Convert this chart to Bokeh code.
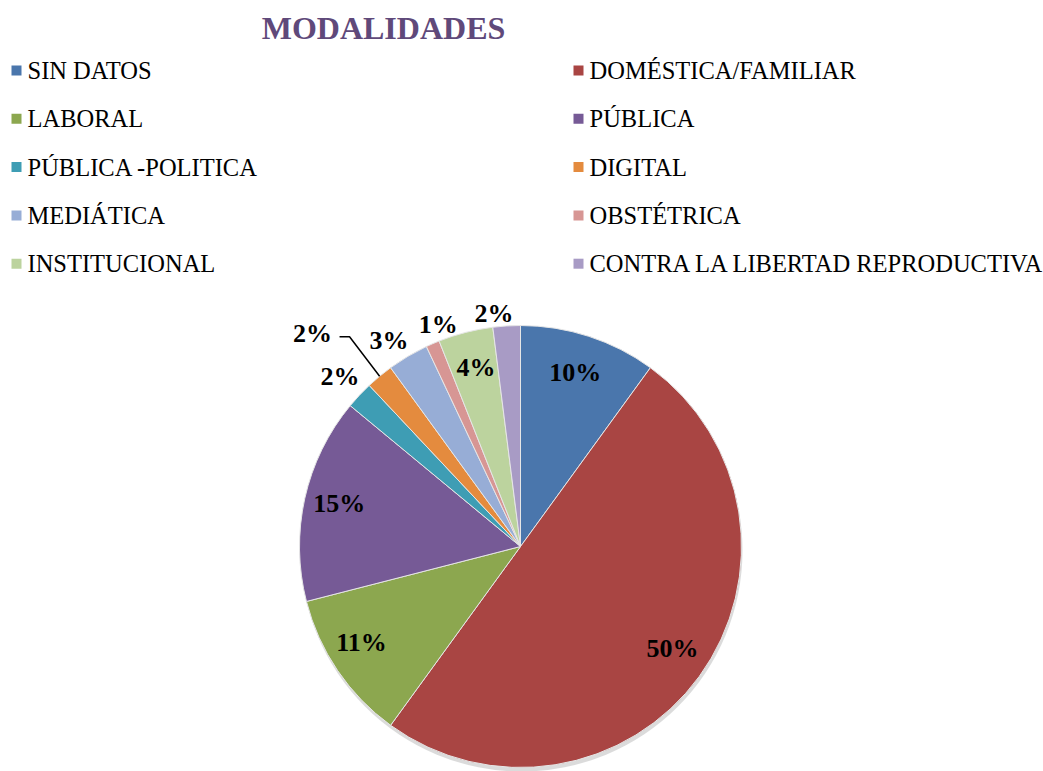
import math
from bokeh.plotting import figure
from bokeh.models import Range1d, ColumnDataSource
from bokeh.core.properties import value
from bokeh.embed import file_html
from bokeh.resources import INLINE

# ---------------- data ----------------
title_text = "MODALIDADES"
categories = ["SIN DATOS", "DOMÉSTICA/FAMILIAR", "LABORAL", "PÚBLICA",
              "PÚBLICA -POLITICA", "DIGITAL", "MEDIÁTICA", "OBSTÉTRICA",
              "INSTITUCIONAL", "CONTRA LA LIBERTAD REPRODUCTIVA"]
values = [10, 50, 11, 15, 2, 2, 3, 1, 4, 2]
colors = ["#4A76AC", "#A94543", "#8CA74F", "#765A96", "#3E9DB4",
          "#E48B3E", "#97ADD6", "#D79694", "#BCD39E", "#A89BC5"]

# ---------------- layout / style ----------------
W, H = 1043, 771
SERIF = value("'Liberation Serif', 'Times New Roman', Times, serif")

def Y(iy):  # screen y (top-down) -> data y (bottom-up)
    return H - iy

CX, CY = 520, Y(546)
R = 221
label_factor = [0.80, 0.85, 0.87, 0.84, 1.12, 1.32, 1.08, 1.05, 0.81, 1.04]
label_dx = [0, 0, 0, 0, 0, -22, -10, 10, 0, -12]
label_dy = [-6, -8, -12, -3, -1, 12, -1, -9, -6, -4]  # screen px, down positive

p = figure(width=W, height=H, output_backend="svg", toolbar_location=None,
           x_range=Range1d(0, W), y_range=Range1d(0, H), min_border=0)
p.axis.visible = False
p.grid.visible = False
p.outline_line_color = None
p.background_fill_color = "white"

# wedges
total = float(sum(values))
starts, ends, mids = [], [], []
cum = 0.0
for v in values:
    a = cum / total
    cum += v
    b = cum / total
    starts.append(math.pi / 2 - 2 * math.pi * b)
    ends.append(math.pi / 2 - 2 * math.pi * a)
    mids.append(2 * math.pi * (a + b) / 2)  # clockwise from top

# soft shadow at the bottom edge
p.circle(x=[CX + 1], y=[CY - 4], radius=R, fill_color="#6f6f6f",
         fill_alpha=0.25, line_color=None)

src = ColumnDataSource(dict(start=starts, end=ends, color=colors))
p.wedge(x=CX, y=CY, radius=R, start_angle="start", end_angle="end",
        direction="anticlock", fill_color="color", line_color="#e6e6e6",
        line_width=1, source=src)

# percentage labels
lx, ly, lt = [], [], []
for i, v in enumerate(values):
    f = label_factor[i]
    lx.append(CX + f * R * math.sin(mids[i]) + label_dx[i])
    ly.append(CY + f * R * math.cos(mids[i]) - label_dy[i])
    lt.append(f"{round(100 * v / total)}%")
p.text(x=lx, y=ly, text=lt, text_font=SERIF,
       text_font_style="bold", text_font_size="26px", text_color="black",
       text_align="center", text_baseline="middle")

# leader line for DIGITAL
k = categories.index("DIGITAL")
ex = CX + R * math.sin(mids[k])
ey = CY + R * math.cos(mids[k])
p.line(x=[lx[k] + 27, lx[k] + 37, ex], y=[ly[k] - 3, ly[k] - 3, ey],
       line_color="black", line_width=1.5)

# title
p.text(x=[383], y=[Y(27)], text=[title_text], text_font=SERIF,
       text_font_style="bold", text_font_size="32px", text_color="#5F497A",
       text_align="center", text_baseline="middle")

# legend (two columns)
col_marker_x = [16, 578]
col_text_x = [27, 589]
row_y0, row_dy = 70, 48.3
mx, my, tx, ty = [], [], [], []
for i, c in enumerate(categories):
    col, row = i % 2, i // 2
    yy = Y(row_y0 + row * row_dy)
    mx.append(col_marker_x[col]); my.append(yy)
    tx.append(col_text_x[col]); ty.append(yy)
p.rect(x=mx, y=my, width=10, height=10, width_units="screen",
       height_units="screen", fill_color=colors, line_color=None)
p.text(x=tx, y=ty, text=categories, text_font=SERIF,
       text_font_size="24.5px", text_color="black", text_align="left",
       text_baseline="middle")

open("out.html", "w").write(file_html(p, INLINE))
